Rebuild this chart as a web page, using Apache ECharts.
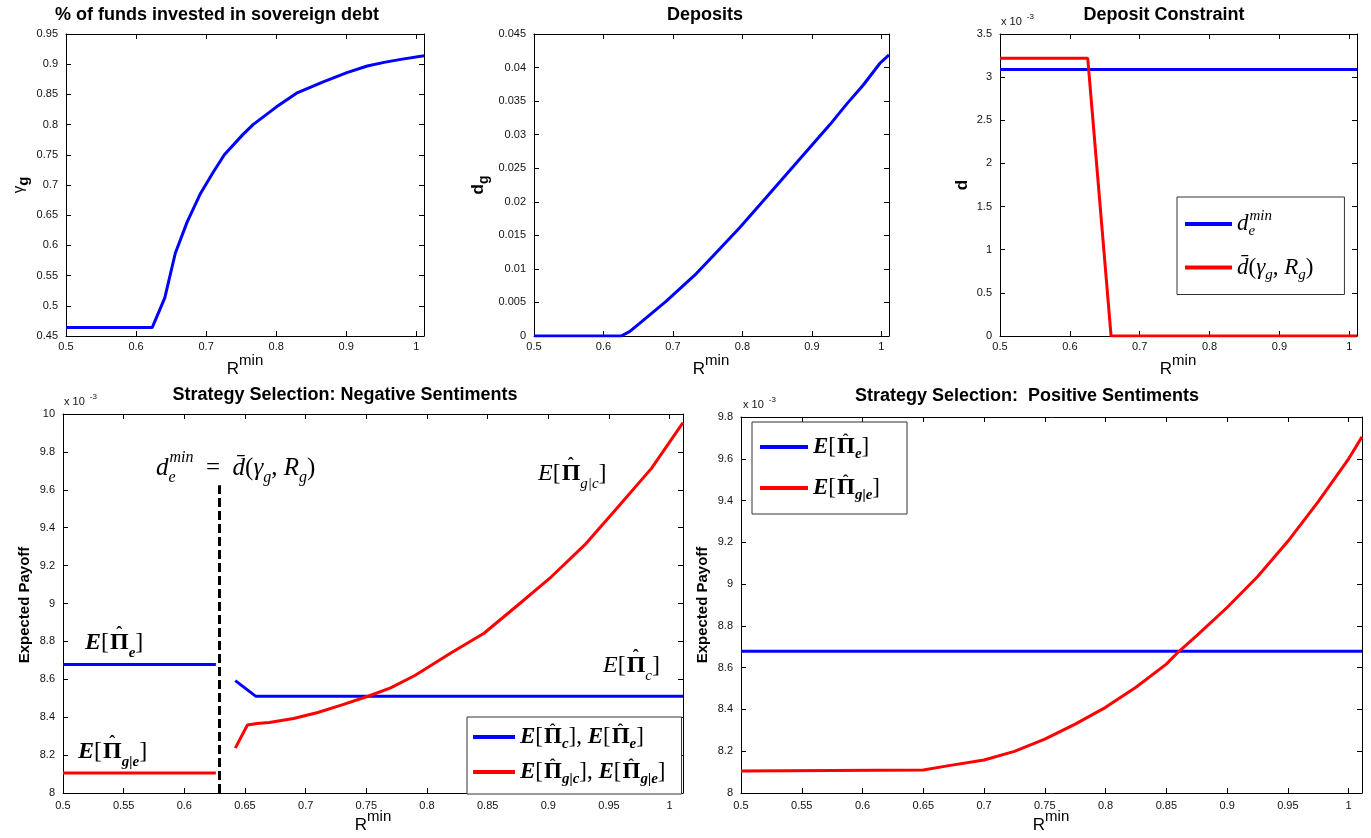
<!DOCTYPE html>
<html><head><meta charset="utf-8">
<script src="https://cdn.jsdelivr.net/npm/echarts@6/dist/echarts.min.js"></script>
<style>html,body{margin:0;padding:0;background:#fff}#c{width:1371px;height:838px}</style>
</head><body><div id="c"></div>
<script>
// ---------------- data (x = R^min) ----------------
const xMin = 0.5, xMax = 1.011;
// panel 1: % of funds invested in sovereign debt (gamma_g)
const gammaG = [[0.5,0.464],[0.623,0.464],[0.641,0.513],[0.656,0.587],[0.673,0.639],[0.692,0.686],[0.709,0.719],[0.726,0.750],[0.752,0.783],[0.767,0.800],[0.800,0.829],[0.829,0.852],[0.868,0.871],[0.901,0.886],[0.930,0.897],[0.954,0.903],[0.978,0.908],[1.011,0.914]];
// panel 2: deposits d_g
const depositsG = [[0.5,0],[0.6255,0],[0.6375,0.00064],[0.652,0.00188],[0.690,0.00515],[0.7337,0.0093],[0.7577,0.01193],[0.796,0.01614],[0.8298,0.0201],[0.8779,0.0258],[0.926,0.0315],[0.950,0.03455],[0.974,0.0374],[0.998,0.04064],[1.011,0.04188]];
// panel 3: deposit constraint (x 10^-3)
const dMinE = [[0.5,3.09],[1.011,3.09]];
const dBar = [[0.5,3.22],[0.6255,3.22],[0.627,3.08],[0.659,0],[1.011,0]];
// panel 4: negative sentiments (x 10^-3)
const negPiE = [[0.5,8.678],[0.626,8.678]];
const negPiC = [[0.642,8.593],[0.659,8.510],[1.011,8.510]];
const negPiGE = [[0.5,8.105],[0.626,8.105]];
const negPiGC = [[0.642,8.237],[0.652,8.359],[0.660,8.367],[0.670,8.372],[0.690,8.393],[0.710,8.425],[0.730,8.465],[0.752,8.512],[0.770,8.555],[0.790,8.620],[0.820,8.740],[0.847,8.843],[0.875,8.992],[0.9025,9.141],[0.930,9.309],[0.9576,9.511],[0.985,9.713],[1.011,9.955]];
const threshold = [[0.629,8.0],[0.629,9.624]];
// panel 5: positive sentiments (x 10^-3)
const posPiE = [[0.5,8.678],[1.011,8.678]];
const posPiGE = [[0.5,8.105],[0.650,8.110],[0.671,8.131],[0.700,8.158],[0.725,8.199],[0.750,8.258],[0.775,8.330],[0.800,8.410],[0.825,8.506],[0.850,8.617],[0.860,8.676],[0.875,8.753],[0.900,8.888],[0.925,9.035],[0.950,9.205],[0.975,9.395],[1.000,9.600],[1.011,9.705]];

// axis ranges / tick spacing
const yRanges = [[0.45,0.95,0.05],[0,0.045,0.005],[0,3.5,0.5],[8,10,0.2],[8,9.8,0.2]];
const xIntervals = [0.1,0.1,0.1,0.05,0.05];
const titles = ['% of funds invested in sovereign debt','Deposits','Deposit Constraint','Strategy Selection: Negative Sentiments','Strategy Selection:  Positive Sentiments'];

// ---------------- layout ----------------
const grids = [
  {left:66, top:34, width:358, height:302},
  {left:534, top:34, width:355, height:302},
  {left:1000, top:34, width:357, height:302},
  {left:63, top:414, width:620, height:379},
  {left:741, top:417, width:621, height:376}
];
const SANS = '"Liberation Sans", Arial, sans-serif';
const SERIF = '"Liberation Serif", "DejaVu Serif", serif';
const BLUE = '#0000ff', RED = '#ff0000';

function st(o){ o.color = o.color || '#000'; o.fill = o.color; return o; }
function mathRich(fs, lh){
  lh = lh || Math.round(fs*1.45);
  const ss = Math.round(fs*0.64), hs = Math.round(fs*0.75);
  return {
    E: st({fontFamily:SERIF,fontStyle:'italic',fontSize:fs,lineHeight:lh}),
    Eb: st({fontFamily:SERIF,fontStyle:'italic',fontWeight:'bold',fontSize:fs,lineHeight:lh}),
    br: st({fontFamily:SERIF,fontSize:fs,lineHeight:lh}),
    P: st({fontFamily:SERIF,fontWeight:'bold',fontSize:fs,lineHeight:lh}),
    h: st({fontFamily:SERIF,fontWeight:'bold',fontSize:hs,verticalAlign:'top',width:1}),
    s: st({fontFamily:SERIF,fontStyle:'italic',fontSize:ss,verticalAlign:'bottom'}),
    sb: st({fontFamily:SERIF,fontStyle:'italic',fontWeight:'bold',fontSize:ss,verticalAlign:'bottom'}),
    se: st({fontFamily:SERIF,fontStyle:'italic',fontSize:ss,verticalAlign:'bottom',width:1}),
    sup: st({fontFamily:SERIF,fontStyle:'italic',fontSize:ss,verticalAlign:'top'}),
    it: st({fontFamily:SERIF,fontStyle:'italic',fontSize:fs,lineHeight:lh}),
    n: st({fontFamily:SERIF,fontSize:fs,lineHeight:lh})
  };
}
// E[Pi-hat_sub]: the hat is drawn as a zero-width token over the Pi
function piE(sub, bold){ return `{${bold?'Eb':'E'}|E}{br|[}{h|\u2009\u2009\u02C6}{P|\u03A0}{${bold?'sb':'s'}|${sub}}{br|]}`; }
const dMinTxt = '{it|d}{se|e}{sup|min}';
const dBarTxt = '{it|d\u0304}{n|(}{it|\u03B3}{s|g}{n|, }{it|R}{s|g}{n|)}';
const legendText = {
  'dmin': dMinTxt,
  'dbar': dBarTxt,
  'negBlue': piE('c',true)+'{br|, }'+piE('e',true),
  'negRed': piE('g|c',true)+'{br|, }'+piE('g|e',true),
  'posBlue': piE('e',true),
  'posRed': piE('g|e',true)
};

const xAxes = [], yAxes = [];
grids.forEach((g,i)=>{
  const common = {
    type:'value', gridIndex:i,
    axisLine:{show:true,onZero:false,lineStyle:{color:'#000',width:1}},
    axisTick:{show:true,inside:true,length:5,lineStyle:{color:'#000'}},
    splitLine:{show:false}
  };
  const xa = Object.assign({}, common, {min:xMin,max:xMax,interval:xIntervals[i]});
  xAxes.push(Object.assign({}, xa, {position:'bottom',
    axisLabel:{show:true,margin:i<3?5:7,fontFamily:SANS,fontSize:11,color:'#111',showMaxLabel:false}}));
  xAxes.push(Object.assign({}, xa, {position:'top',axisLabel:{show:false}}));
  const r = yRanges[i];
  const ya = Object.assign({}, common, {min:r[0],max:r[1],interval:r[2]});
  yAxes.push(Object.assign({}, ya, {position:'left',
    axisLabel:{show:true,margin:8,fontFamily:SANS,fontSize:11,color:'#111'}}));
  yAxes.push(Object.assign({}, ya, {position:'right',axisLabel:{show:false}}));
});

function line(name, data, i, color, extra){
  return Object.assign({type:'line', name, data, xAxisIndex:2*i, yAxisIndex:2*i,
    showSymbol:false, symbol:'none', animation:false, silent:true,
    lineStyle:{color, width:3}, itemStyle:{color}}, extra||{});
}
const series = [
  line('gamma', gammaG, 0, BLUE),
  line('dep', depositsG, 1, BLUE),
  line('dmin', dMinE, 2, BLUE),
  line('dbar', dBar, 2, RED),
  line('negBlue', negPiE, 3, BLUE),
  line('negBlue', negPiC, 3, BLUE),
  line('negRed', negPiGE, 3, RED),
  line('negRed', negPiGC, 3, RED),
  line('thr', threshold, 3, '#000', {lineStyle:{color:'#000',width:3,type:[9,4]}}),
  line('posBlue', posPiE, 4, BLUE),
  line('posRed', posPiGE, 4, RED)
];

function legendBox(names, left, top, pad, gap, fs, lh, iw){
  return {data:names, orient:'vertical', left, top, padding:pad, itemGap:gap,
    icon:'rect', itemWidth:iw, itemHeight:4, selectedMode:false,
    backgroundColor:'#fff', borderColor:'#333', borderWidth:1, borderRadius:0,
    formatter:(n)=>legendText[n], textStyle:{rich:mathRich(fs, lh)}};
}
const legends = [
  legendBox(['dmin','dbar'], 1177, 197, [12,31,12,8], 17, 23, 30, 47),
  legendBox(['negBlue','negRed'], 467, 717, [5,16,7,6], 5, 23, 30, 42),
  legendBox(['posBlue','posRed'], 752, 422, [10,27,11,8], 11, 23, 30, 48)
];

// ---------------- texts ----------------
const graphic = [];
const titlePos = [[217,15],[705,15],[1164,15],[345,395],[1027,396]];
titles.forEach((t,i)=>graphic.push({type:'text',x:titlePos[i][0],y:titlePos[i][1],silent:true,
  style:{text:t,font:'bold 18px '+SANS,fill:'#000',align:'center',verticalAlign:'middle'}}));
const rRich = {r:{fontFamily:SANS,fontSize:17,lineHeight:32,fill:'#000'},m:{fontFamily:SANS,fontSize:15,verticalAlign:'top',fill:'#000'}};
[[245,369],[711,369],[1178,369],[373,825],[1051,825]].forEach(p=>graphic.push({type:'text',x:p[0],y:p[1],silent:true,
  style:{text:'{r|R}{m|min}',rich:rRich,align:'center',verticalAlign:'middle'}}));
function yName(x,y,text,rich){ graphic.push({type:'text',x,y,rotation:Math.PI/2,silent:true,
  style:{text,rich,align:'center',verticalAlign:'middle'}}); }
yName(19,185,'{g|\u03B3}{s|g}',{g:{fontFamily:SANS,fontSize:15,lineHeight:24,fill:'#000'},s:{fontFamily:SANS,fontWeight:'bold',fontSize:15,verticalAlign:'bottom',fill:'#000'}});
yName(478,185,'{g|d}{s|g}',{g:{fontFamily:SANS,fontWeight:'bold',fontSize:17,lineHeight:26,fill:'#000'},s:{fontFamily:SANS,fontWeight:'bold',fontSize:14,verticalAlign:'bottom',fill:'#000'}});
yName(962,185,'{g|d}',{g:{fontFamily:SANS,fontWeight:'bold',fontSize:17,fill:'#000'}});
yName(25,605,'{g|Expected Payoff}',{g:{fontFamily:SANS,fontWeight:'bold',fontSize:15,fill:'#000'}});
yName(703,605,'{g|Expected Payoff}',{g:{fontFamily:SANS,fontWeight:'bold',fontSize:15,fill:'#000'}});
const expRich = {a:{fontFamily:SANS,fontSize:11,lineHeight:18,fill:'#111'},b:{fontFamily:SANS,fontSize:8,verticalAlign:'top',padding:[0,0,0,5],fill:'#111'}};
[[1001,22],[64,402],[743,405]].forEach(p=>graphic.push({type:'text',x:p[0],y:p[1],silent:true,
  style:{text:'{a|x 10}{b|-3}',rich:expRich,align:'left',verticalAlign:'middle'}}));
function ann(x,y,text,fs){ graphic.push({type:'text',x,y,silent:true,style:{text,rich:mathRich(fs),align:'left',verticalAlign:'middle'}}); }
ann(156,468, dMinTxt+'{n|  =  }'+dBarTxt, 25);
ann(85,643, piE('e',true), 24);
ann(78,752, piE('g|e',true), 24);
ann(538,474, piE('g|c',false), 24);
ann(603,666, piE('c',false), 24);

const chart = echarts.init(document.getElementById('c'), null, {renderer:'canvas'});
chart.setOption({
  backgroundColor:'#fff', animation:false,
  grid: grids, xAxis: xAxes, yAxis: yAxes, series, legend: legends, graphic
});
</script></body></html>
